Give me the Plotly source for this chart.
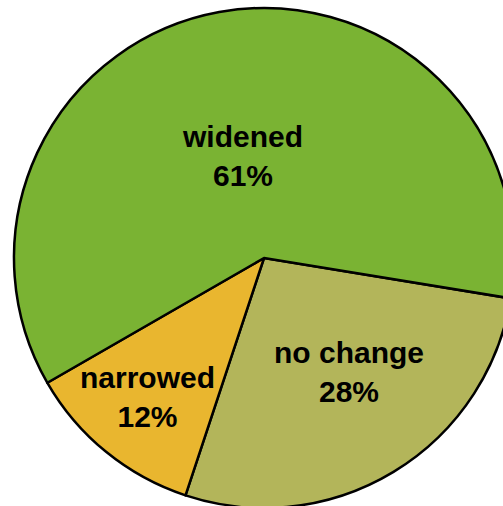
import plotly.graph_objects as go

# slice data, clockwise starting from the "no change" slice
labels = ['no change', 'narrowed', 'widened']
values = [27.5, 11.6, 60.9]
pct_text = ['28%', '12%', '61%']
colors = ['#B3B55A', '#E9B62F', '#7AB333']

W, H = 528, 516

fig = go.Figure(go.Pie(
    labels=labels,
    values=values,
    textinfo='none',
    hoverinfo='label+percent',
    marker=dict(colors=colors, line=dict(color='black', width=2.5)),
    sort=False,
    direction='clockwise',
    rotation=99.3,
    showlegend=False,
    domain=dict(x=[14 / W, 514 / W], y=[8 / H, 508 / H]),
))

# slice labels, placed where the original chart put them (pixel centres)
label_pos = [(349, 372), (147, 397), (242, 156)]
for lab, pct, (px, py) in zip(labels, pct_text, label_pos):
    fig.add_annotation(
        x=px / W, y=1 - py / H, xref='paper', yref='paper',
        text=f'<b>{lab}<br>{pct}</b>',
        showarrow=False, xanchor='center', yanchor='middle',
        font=dict(family='Liberation Sans, Arial', size=30, color='black'),
    )

fig.update_layout(
    width=W,
    height=H,
    autosize=False,
    margin=dict(l=0, r=0, t=0, b=0),
    paper_bgcolor='white',
    plot_bgcolor='white',
)

fig.write_html(
    'out.html',
    config={'displayModeBar': False},
    post_script="document.body.style.margin='0';document.body.style.overflow='hidden';",
)
